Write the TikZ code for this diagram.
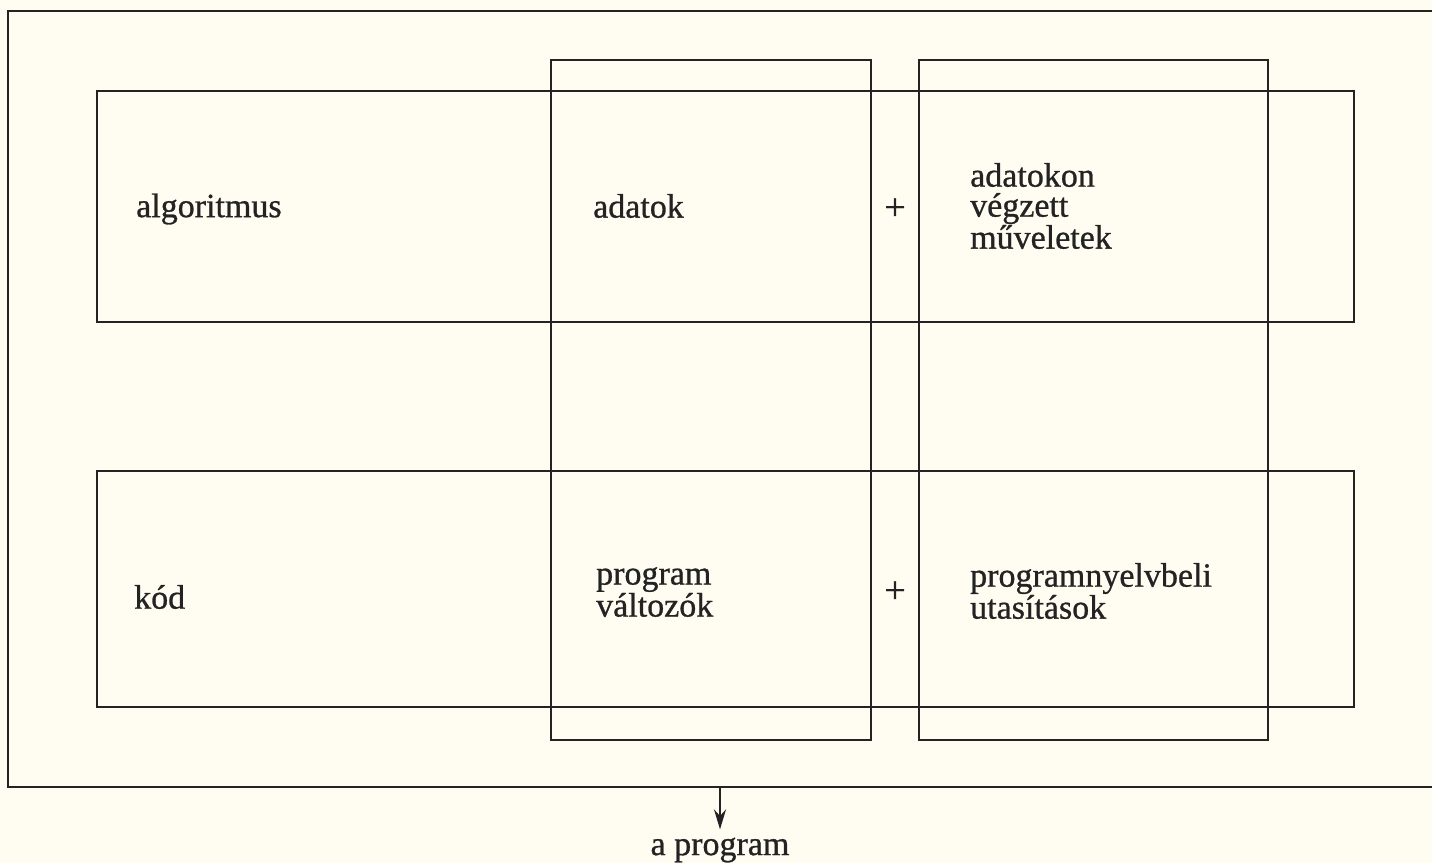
\documentclass[tikz,border=0pt]{standalone}
\usepackage{fontspec}
\setmainfont{Liberation Serif}[FakeBold=0.8]
\usetikzlibrary{arrows.meta}
\definecolor{paper}{RGB}{255,253,242}
\definecolor{ink}{RGB}{35,35,35}
\begin{document}
\begin{tikzpicture}[x=1pt,y=-1pt,
  frame/.style={draw=ink, line width=2pt, inner sep=0pt},
  txt/.style={inner sep=0pt, anchor=west, align=left, text=ink, font=\fontsize{34}{30}\selectfont},
  plus/.style={inner sep=0pt, text=ink, font=\fontsize{38}{30}\selectfont},
  lbl/.style={inner sep=0pt, text=ink, font=\fontsize{34}{30}\selectfont},
  conn/.style={draw=ink, line width=2pt, -{Stealth[length=20pt,width=12pt]}}]
\fill[paper] (0,0) rectangle (1432,863);
\useasboundingbox (0,0) rectangle (1432,863);
% outer frame (right edge outside the picture)
\coordinate (otr) at (1432,11);
\coordinate (otl) at (8,11);
\coordinate (obl) at (8,787);
\coordinate (obr) at (1432,787);
\coordinate (ob) at (720,787);
\draw[draw=ink, line width=2pt] (otr) -- (otl) -- (obl) -- (obr);
% row boxes
\node[frame, minimum width=1257pt, minimum height=231pt] (toprow) at (725.5,206.5) {};
\node[frame, minimum width=1257pt, minimum height=236pt] (botrow) at (725.5,589) {};
% column boxes
\node[frame, minimum width=320pt, minimum height=680pt] (col1) at (711,400) {};
\node[frame, minimum width=349pt, minimum height=680pt] (col2) at (1093.5,400) {};
% texts
\node[txt] (alg) at (136,209) {algoritmus};
\node[txt] (adat) at (593,206) {adatok};
\node[plus] (p1) at (895,209) {+};
\node[txt] (muv) at (970,206) {adatokon\\végzett\\műveletek};
\node[txt] (kod) at (134,597) {kód};
\node[txt] (valt) at (596,592) {program\\változók};
\node[plus] (p2) at (895,592) {+};
\node[txt] (utas) at (970,591) {programnyelvbeli\\utasítások};
\node[lbl] (prog) at (720,850) {a program};
\draw[conn, shorten >=8pt] (ob) -- (prog.north);
\end{tikzpicture}
\end{document}
